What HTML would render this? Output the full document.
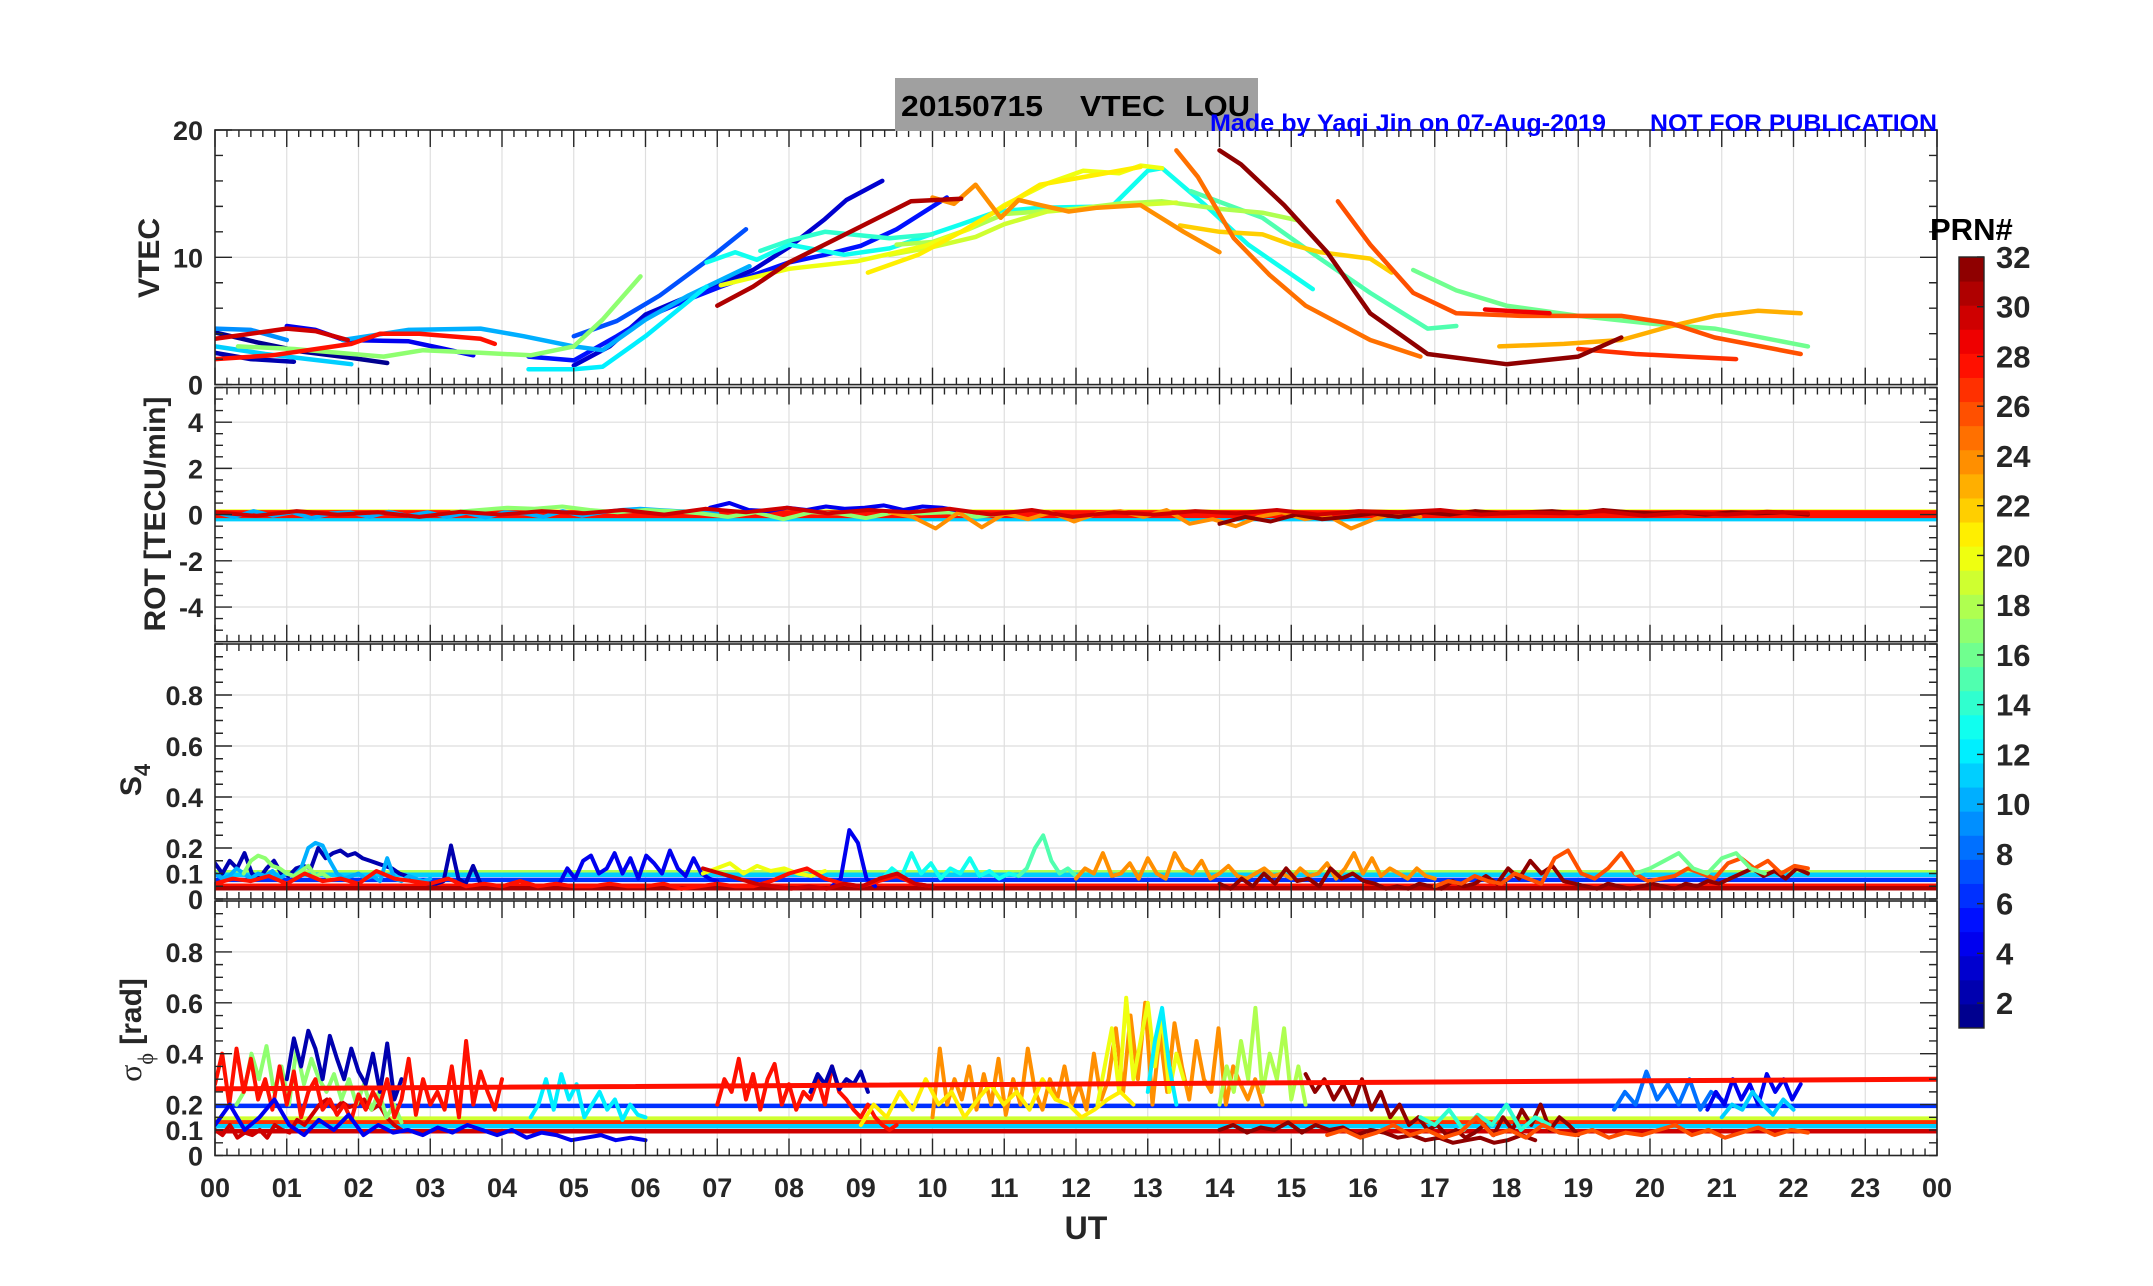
<!DOCTYPE html>
<html><head><meta charset="utf-8">
<style>
html,body{margin:0;padding:0;background:#fff;}
svg{display:block;font-family:"Liberation Sans",Arial,sans-serif;font-weight:bold;}
</style></head>
<body>
<svg id="fig" width="2153" height="1286" viewBox="0 0 2153 1286" xmlns="http://www.w3.org/2000/svg">
<rect x="0" y="0" width="2153" height="1286" fill="#fff"/>
<g id="grids"></g>
<g id="series"></g>
<g id="axes"></g>
<g id="labels"></g>
</svg>
<script>
// ---------------- DATA ----------------
const VTEC_PRN = [1,2,3,4,5,7,9,10,11,12,13,14,15,16,17,18,19,20,21,22,23,24,25,26,27,28,29,30,31,32];
const VTEC_T = [
 [0,0.6,1.2,1.9,2.4],
 [0,0.5,1.1],
 [5.0,5.5,6.0,6.5,7.0,7.5,8.0,8.5,8.8,9.3],
 [1.0,1.4,1.8,2.7,3.2,3.6],
 [4.37,5.0,5.6,6.1,6.6,7.05,8.0,8.5,9.0,9.5,10.2],
 [5.0,5.6,6.2,6.8,7.4],
 [0,0.5,1.0],
 [1.78,2.7,3.7,4.3,5.0,5.4,6.0,6.6,7.45],
 [0,0.7,1.3,1.9],
 [4.37,5.0,5.4,6.0,6.85],
 [6.85,7.25,7.55,8.0,8.77,9.4,10.4,10.9,11.5,12.5,13.0,13.2,13.8,14.4,15.3],
 [7.6,8.0,8.5,8.86,9.4,10.0],
 [13.6,14.6,15.4,16.1,16.9,17.3],
 [16.7,17.3,18.0,19.0,20.0,20.9,22.2],
 [0.32,1.1,2.35,2.9,3.7,4.4,5.0,5.4,5.93],
 [9.5,10.0,10.5,11.0,11.5,12.0,12.58,13.2,14.0,14.6,15.1],
 [9.4,10.0,10.6,11.0,11.6,12.2,12.8,13.4],
 [7.05,8.0,8.96,9.9,10.5,11.0,11.6,12.1,12.6,12.9,13.2],
 [9.1,9.8,10.4,11.0,11.5,12.0,12.3,12.9],
 [13.45,14.0,14.6,15.0,15.4,16.1,16.4],
 [17.9,18.8,19.6,20.3,20.9,21.5,22.1],
 [10.0,10.3,10.6,10.95,11.2,11.5,11.9,12.3,12.9,13.5,14.0],
 [13.4,13.7,14.2,14.7,15.2,16.1,16.8],
 [15.65,16.1,16.7,17.3,18.2,19.6,20.3,20.9,22.1],
 [19.0,19.8,20.5,21.2],
 [0,0.8,1.9,2.3,2.85,3.7,3.9],
 [17.7,18.6],
 [0,1.0,1.4,1.85],
 [7.0,7.5,8.0,8.96,9.7,10.4],
 [14.0,14.3,14.9,15.5,16.1,16.9,18.0,19.0,19.6]
];
const VTEC_V = [
 [4.1,3.3,2.6,2.1,1.7],
 [2.5,2.0,1.8],
 [1.5,3.0,5.5,6.7,7.8,9.0,10.8,13.0,14.5,16.0],
 [4.6,4.3,3.5,3.4,2.8,2.3],
 [2.2,1.9,3.8,5.5,6.7,7.7,9.6,10.2,10.9,12.2,14.7],
 [3.8,5.0,7.0,9.5,12.2],
 [4.4,4.3,3.5],
 [3.5,4.3,4.4,3.8,3.0,2.7,5.1,7.0,9.3],
 [3.0,2.4,2.0,1.6],
 [1.2,1.2,1.4,3.8,7.7],
 [9.6,10.4,9.8,11.0,10.2,10.7,12.6,13.6,13.9,14.0,16.8,17.0,14.1,11.0,7.5],
 [10.5,11.3,12.0,11.8,11.5,11.8],
 [15.2,13.1,9.9,7.2,4.4,4.6],
 [9.0,7.4,6.2,5.4,4.8,4.4,3.0],
 [3.0,2.8,2.2,2.7,2.5,2.3,3.0,5.1,8.5],
 [11.0,11.2,12.2,13.4,13.6,13.8,14.2,14.4,13.8,13.5,12.9],
 [10.2,10.8,11.6,12.6,13.6,13.9,14.1,14.3],
 [7.8,9.1,9.7,10.9,12.2,14.1,15.8,16.8,16.6,17.2,17.0],
 [8.8,10.2,12.0,14.0,15.7,16.2,16.5,17.1],
 [12.5,12.0,11.8,11.0,10.4,9.9,8.8],
 [3.0,3.2,3.5,4.6,5.4,5.8,5.6],
 [14.7,14.2,15.7,13.1,14.5,14.1,13.6,13.9,14.1,12.0,10.4],
 [18.4,16.3,11.5,8.6,6.2,3.5,2.2],
 [14.4,11.0,7.2,5.6,5.4,5.4,4.8,3.7,2.4],
 [2.8,2.4,2.2,2.0],
 [2.0,2.3,3.2,4.0,4.0,3.6,3.2],
 [5.9,5.6],
 [3.6,4.4,4.2,3.5],
 [6.2,7.7,9.6,12.3,14.4,14.6],
 [18.4,17.3,14.1,10.4,5.6,2.4,1.6,2.2,3.7]
];

const ROT_BASE_PRN = [11, 20, 28];
const ROT_BASE_V = [-0.12, 0.05, 0.02];
const ROT_PRN = [10, 17, 4, 24, 32, 30];
const ROT_SPAN = [[0,7.0],[3.3,11.0],[6.9,10.4],[9.4,16.8],[14.0,22.2],[0,22.2]];
const ROT_V = [
 [0.1,-0.1,0.15,-0.05,0.1,-0.15,0.05,0.1,-0.1,0.12,-0.05,0.1,-0.1,0.08,-0.12,0.1,0.05,-0.1,0.15,-0.05,0.1,0.2,0.25,0.2,0.15,0.1,0.05],
 [0.1,0.2,0.3,0.25,0.35,0.2,0.1,0.2,0.15,0.05,-0.1,0.1,-0.2,0.1,0.05,-0.15,0.1,0.05,0.1,-0.1,0.05],
 [0.3,0.5,0.2,0.15,0.3,0.2,0.35,0.25,0.3,0.4,0.2,0.35,0.3,0.15],
 [0.1,-0.1,-0.6,0.1,-0.55,0.05,-0.2,0.1,-0.3,0.05,0.15,-0.1,0.2,-0.4,-0.2,-0.5,-0.1,0.1,-0.2,-0.05,-0.6,-0.2,0.1,-0.1],
 [-0.4,-0.1,-0.3,0.0,-0.2,-0.1,0.05,-0.1,0.1,0.0,0.15,0.05,0.1,0.15,0.05,0.2,0.1,0.05,0.1,0.0,0.1,0.05,0.1,0.0],
 [0.1,-0.05,0.15,0.0,0.1,-0.1,0.12,0.0,0.15,0.05,0.2,0.0,0.25,0.1,0.3,0.05,0.2,0.1,0.25,0.0,0.2,-0.1,0.1,0.0,0.15,0.05,0.2,0.0,0.15,0.1,0.2,0.0,0.1,0.05,0.15,-0.05,0.1,0.0,0.12,0.05]
];

const S4_BASE_PRN = [18, 11, 6, 28, 31];
const S4_BASE_V = [0.105, 0.095, 0.075, 0.052, 0.042];
const S4_PRN = [2, 10, 17, 4, 4, 13, 15, 24, 32, 26, 20, 16, 28, 30];
const S4_SPAN = [[0,3.7],[0,3.0],[0.4,1.6],[4.8,7.0],[8.6,9.2],[9.3,11.2],[11.2,12.0],[12.0,17.0],[14.0,22.2],[17.0,22.2],[6.8,8.5],[19.8,21.6],[0,10.0],[6.8,10.0]];
const S4_V = [
 [0.14,0.1,0.15,0.12,0.18,0.1,0.08,0.12,0.15,0.1,0.09,0.12,0.13,0.12,0.2,0.16,0.18,0.19,0.17,0.18,0.16,0.15,0.14,0.13,0.12,0.1,0.09,0.08,0.07,0.06,0.06,0.07,0.21,0.08,0.06,0.13,0.06],
 [0.1,0.08,0.09,0.12,0.1,0.08,0.1,0.09,0.11,0.08,0.1,0.09,0.12,0.2,0.22,0.21,0.15,0.1,0.08,0.09,0.1,0.08,0.09,0.07,0.16,0.08,0.07,0.09,0.08,0.07,0.08],
 [0.1,0.15,0.17,0.16,0.13,0.12,0.1,0.09,0.11,0.13,0.09,0.1,0.08],
 [0.06,0.12,0.08,0.15,0.17,0.1,0.12,0.18,0.1,0.16,0.08,0.17,0.14,0.1,0.19,0.12,0.09,0.16,0.1,0.08,0.07],
 [0.05,0.08,0.27,0.22,0.08,0.05],
 [0.08,0.12,0.09,0.18,0.1,0.14,0.08,0.12,0.1,0.16,0.09,0.11,0.08,0.1,0.09],
 [0.09,0.12,0.2,0.25,0.15,0.1,0.12,0.09],
 [0.08,0.12,0.1,0.18,0.09,0.1,0.14,0.08,0.16,0.1,0.08,0.18,0.12,0.1,0.15,0.08,0.1,0.13,0.09,0.08,0.1,0.12,0.09,0.1,0.08,0.12,0.09,0.1,0.14,0.08,0.12,0.18,0.1,0.16,0.09,0.12,0.1,0.08,0.12,0.09,0.08],
 [0.06,0.04,0.08,0.05,0.1,0.06,0.12,0.07,0.08,0.05,0.12,0.08,0.1,0.07,0.06,0.04,0.05,0.04,0.06,0.05,0.04,0.07,0.05,0.06,0.09,0.06,0.12,0.08,0.15,0.1,0.13,0.07,0.06,0.05,0.04,0.06,0.05,0.04,0.05,0.06,0.05,0.04,0.06,0.05,0.07,0.06,0.08,0.1,0.12,0.09,0.11,0.08,0.12,0.1],
 [0.05,0.07,0.06,0.09,0.07,0.06,0.1,0.08,0.06,0.16,0.19,0.1,0.08,0.12,0.18,0.1,0.07,0.08,0.09,0.12,0.1,0.08,0.14,0.16,0.12,0.15,0.1,0.13,0.12],
 [0.1,0.12,0.14,0.1,0.13,0.11,0.12,0.1,0.09,0.11],
 [0.1,0.12,0.15,0.18,0.12,0.1,0.16,0.18,0.12,0.1],
 [0.06,0.08,0.07,0.09,0.06,0.1,0.07,0.08,0.06,0.11,0.08,0.07,0.06,0.08,0.05,0.06,0.05,0.07,0.05,0.06,0.05,0.05,0.06,0.05,0.05,0.06,0.04,0.05,0.06,0.05,0.05,0.07,0.1,0.12,0.08,0.06,0.05,0.07,0.09,0.06,0.05],
 [0.12,0.1,0.08,0.06,0.05,0.04,0.05,0.04,0.06,0.05,0.08,0.1,0.06,0.05]
];

const SP_LINE_PRN = [28];
const SP_LINE_V0 = [0.262];
const SP_LINE_V1 = [0.300];
const SP_BASE_PRN = [6, 19, 27, 11, 30];
const SP_BASE_V = [0.195, 0.145, 0.13, 0.115, 0.095];
const SP_PRN = [30, 17, 2, 28, 12, 4, 28, 2, 24, 20, 12, 18, 21, 32, 32, 14, 8, 4, 26, 11];
const SP_SPAN = [[0,2.6],[0.3,2.6],[1.0,2.6],[0,4.0],[4.4,6.0],[0,6.0],[7.0,9.5],[8.3,9.1],[10.0,14.6],[12.3,13.5],[13.0,13.4],[14.0,15.2],[9.0,12.8],[15.2,19.0],[14.0,18.4],[16.8,18.6],[19.5,21.0],[20.8,22.1],[15.5,22.2],[21.0,22.0]];
const SP_V = [
 [0.1,0.08,0.12,0.07,0.09,0.08,0.1,0.07,0.12,0.1,0.09,0.14,0.12,0.16,0.2,0.22,0.18,0.21,0.19,0.2,0.22,0.18,0.2,0.15,0.12,0.1],
 [0.2,0.25,0.4,0.3,0.43,0.25,0.35,0.2,0.42,0.28,0.38,0.3,0.25,0.32,0.22,0.3,0.2,0.28,0.18,0.25,0.15,0.2,0.13],
 [0.3,0.46,0.35,0.49,0.42,0.3,0.47,0.38,0.3,0.42,0.33,0.28,0.4,0.25,0.44,0.22,0.3],
 [0.28,0.4,0.2,0.42,0.25,0.38,0.22,0.3,0.18,0.35,0.2,0.33,0.15,0.25,0.3,0.18,0.22,0.16,0.2,0.14,0.24,0.18,0.25,0.2,0.3,0.15,0.22,0.38,0.16,0.3,0.2,0.25,0.18,0.35,0.15,0.45,0.2,0.33,0.25,0.18,0.3],
 [0.15,0.2,0.3,0.18,0.32,0.22,0.28,0.15,0.2,0.25,0.18,0.22,0.14,0.2,0.16,0.15],
 [0.12,0.2,0.1,0.15,0.22,0.12,0.08,0.14,0.1,0.16,0.08,0.12,0.09,0.1,0.08,0.11,0.09,0.12,0.1,0.08,0.1,0.07,0.09,0.08,0.06,0.07,0.08,0.06,0.07,0.06],
 [0.2,0.3,0.25,0.38,0.22,0.32,0.18,0.3,0.36,0.2,0.28,0.18,0.25,0.22,0.3,0.2,0.35,0.25,0.22,0.18,0.15,0.2,0.15,0.12,0.1,0.12],
 [0.25,0.32,0.28,0.35,0.26,0.3,0.28,0.33,0.25],
 [0.15,0.42,0.2,0.3,0.22,0.35,0.18,0.32,0.2,0.38,0.16,0.3,0.2,0.42,0.25,0.18,0.3,0.22,0.35,0.2,0.28,0.18,0.4,0.22,0.3,0.5,0.25,0.55,0.3,0.6,0.2,0.48,0.25,0.52,0.35,0.22,0.45,0.3,0.25,0.5,0.2,0.35,0.28,0.22,0.3,0.2],
 [0.2,0.35,0.5,0.25,0.62,0.3,0.45,0.6,0.35,0.55,0.25,0.4,0.3],
 [0.25,0.45,0.58,0.35,0.2],
 [0.2,0.35,0.25,0.45,0.3,0.58,0.25,0.4,0.3,0.5,0.22,0.35,0.2],
 [0.12,0.2,0.15,0.25,0.18,0.3,0.2,0.25,0.15,0.22,0.28,0.2,0.25,0.18,0.3,0.22,0.2,0.15,0.18,0.22,0.25,0.2],
 [0.32,0.25,0.3,0.22,0.28,0.2,0.3,0.18,0.25,0.15,0.2,0.12,0.15,0.1,0.12,0.08,0.1,0.07,0.09,0.12,0.08,0.15,0.1,0.18,0.12,0.2,0.1,0.15,0.12,0.08],
 [0.1,0.12,0.09,0.11,0.1,0.13,0.09,0.12,0.1,0.11,0.08,0.1,0.09,0.07,0.08,0.06,0.07,0.05,0.06,0.07,0.05,0.06,0.08,0.06],
 [0.15,0.12,0.18,0.1,0.16,0.12,0.2,0.1,0.15,0.12],
 [0.18,0.25,0.2,0.33,0.22,0.28,0.2,0.3,0.18,0.25,0.22],
 [0.18,0.25,0.2,0.3,0.22,0.28,0.2,0.32,0.25,0.3,0.22,0.28],
 [0.08,0.1,0.07,0.09,0.12,0.08,0.1,0.07,0.09,0.15,0.08,0.1,0.07,0.12,0.09,0.08,0.1,0.07,0.09,0.08,0.1,0.12,0.08,0.1,0.07,0.09,0.11,0.08,0.1,0.09],
 [0.15,0.2,0.18,0.25,0.2,0.16,0.22,0.18]
];

const X_TICKS = ["00","01","02","03","04","05","06","07","08","09","10","11","12","13","14","15","16","17","18","19","20","21","22","23","00"];
const VTEC_TICKS = [0,10,20];
const ROT_TICKS = [-4,-2,0,2,4];
const S4_TICKS = [0,0.1,0.2,0.4,0.6,0.8];
const SP_TICKS = [0,0.1,0.2,0.4,0.6,0.8];
const CB_TICKS = [2,4,6,8,10,12,14,16,18,20,22,24,26,28,30,32];

// ---------------- LAYOUT ----------------
const NS = "http://www.w3.org/2000/svg";
const X0 = 215, X1 = 1937;
const PANELS = [
 {name:"vtec", top:130, bot:384.6, min:0, max:20, minor:2, grid:[0,10,20]},
 {name:"rot", top:387.5, bot:641.7, min:-5.5, max:5.5, minor:0.5, grid:[-4,-2,0,2,4]},
 {name:"s4", top:644, bot:899, min:0, max:1, minor:0.05, grid:[0.2,0.4,0.6,0.8]},
 {name:"sigma", top:901, bot:1155.5, min:0, max:1, minor:0.05, grid:[0.2,0.4,0.6,0.8]}
];
function xs(h){ return X0 + (X1-X0)*h/24; }
function ys(p, v){ return p.bot - (p.bot-p.top)*(v-p.min)/(p.max-p.min); }
function jet(prn){
  const v = (prn-0.5)/32;
  const c = x => Math.round(255*Math.max(0,Math.min(1,x)));
  return `rgb(${c(1.5-Math.abs(4*v-3))},${c(1.5-Math.abs(4*v-2))},${c(1.5-Math.abs(4*v-1))})`;
}
function mk(tag, attrs, parent){
  const e = document.createElementNS(NS, tag);
  for (const k in attrs) e.setAttribute(k, attrs[k]);
  parent.appendChild(e); return e;
}
const gGrid = document.getElementById('grids');
const gSer = document.getElementById('series');
const gAx = document.getElementById('axes');
const gLab = document.getElementById('labels');

const defs = mk('defs', {}, document.getElementById('fig'));
PANELS.forEach(p=>{
  const cp = mk('clipPath', {id:'clip-'+p.name}, defs);
  mk('rect', {x:X0, y:p.top, width:X1-X0, height:p.bot-p.top}, cp);
});

PANELS.forEach(p=>{
  for (let h=1; h<24; h++){
    const l = mk('line', {x1:xs(h), x2:xs(h), y1:p.top, y2:p.bot, stroke:'#dedede', 'stroke-width':1.2}, gGrid);
    
    
  }
  p.grid.forEach(v=>{
    if (v===p.min || v===p.max) return;
    const l = mk('line', {x1:X0, x2:X1, y1:ys(p,v), y2:ys(p,v), stroke:'#dedede', 'stroke-width':1.2}, gGrid);
    
    
  });
});

function poly(p, pts, color, w, name){
  const d = pts.map((q,i)=>(i?'L':'M')+xs(q[0]).toFixed(1)+','+ys(p,q[1]).toFixed(1)).join('');
  const e = mk('path', {d:d, fill:'none', stroke:color, 'stroke-width':w, 'stroke-linejoin':'round', 'stroke-linecap':'round', 'clip-path':'url(#clip-'+p.name+')'}, gSer);
  
  
  return e;
}
function spanPts(span, vals){
  const n = vals.length;
  return vals.map((v,i)=>[span[0] + (span[1]-span[0])*i/(n-1), v]);
}

const P1 = PANELS[0], P2 = PANELS[1], P3 = PANELS[2], P4 = PANELS[3];
VTEC_PRN.forEach((prn,i)=>{
  poly(P1, VTEC_T[i].map((t,j)=>[t, VTEC_V[i][j]]), jet(prn), 4.5, 'vtec-line-prn'+prn);
});
ROT_BASE_PRN.forEach((prn,i)=>{ poly(P2, [[0,ROT_BASE_V[i]],[24,ROT_BASE_V[i]]], jet(prn), 8, 'rot-baseline-prn'+prn); });
ROT_PRN.forEach((prn,i)=>{ poly(P2, spanPts(ROT_SPAN[i], ROT_V[i]), jet(prn), 4, 'rot-trace-prn'+prn); });
S4_BASE_PRN.forEach((prn,i)=>{ poly(P3, [[0,S4_BASE_V[i]],[24,S4_BASE_V[i]]], jet(prn), 4.5, 's4-baseline-prn'+prn); });
S4_PRN.forEach((prn,i)=>{ poly(P3, spanPts(S4_SPAN[i], S4_V[i]), jet(prn), 4, 's4-trace-prn'+prn); });
SP_BASE_PRN.forEach((prn,i)=>{ poly(P4, [[0,SP_BASE_V[i]],[24,SP_BASE_V[i]]], jet(prn), 4.5, 'sigma-baseline-prn'+prn); });
SP_PRN.forEach((prn,i)=>{ poly(P4, spanPts(SP_SPAN[i], SP_V[i]), jet(prn), 4, 'sigma-trace-prn'+prn); });
SP_LINE_PRN.forEach((prn,i)=>{ poly(P4, [[0,SP_LINE_V0[i]],[24,SP_LINE_V1[i]]], jet(prn), 5, 'sigma-trend-prn'+prn); });

PANELS.forEach(p=>{
  const r = mk('rect', {x:X0, y:p.top, width:X1-X0, height:p.bot-p.top, fill:'none', stroke:'#262626', 'stroke-width':1.6}, gAx);
  
  
  let d = '';
  for (let k=0; k<=144; k++){
    const x = xs(k/6), len = (k%6===0)?17:7;
    d += `M${x},${p.top}v${len}M${x},${p.bot}v${-len}`;
  }
  const nMin = Math.round((p.max-p.min)/p.minor);
  for (let k=0; k<=nMin; k++){
    const v = p.min + k*p.minor;
    const major = p.grid.some(g=>Math.abs(g-v)<1e-6);
    const len = major?17:8;
    const y = ys(p,v);
    d += `M${X0},${y}h${len}M${X1},${y}h${-len}`;
  }
  const t = mk('path', {d:d, stroke:'#262626', 'stroke-width':1.4, fill:'none'}, gAx);
  
  
});

function txt(x, y, s, size, anchor, name, extra){
  const e = mk('text', Object.assign({x:x, y:y, 'font-size':size, 'text-anchor':anchor, fill:'#262626'}, extra||{}), gLab);
  e.textContent = s;
  
  
  return e;
}
VTEC_TICKS.forEach(v=>txt(203, ys(P1,v)+10, String(v), 27, 'end', 'vtec-tick-label'));
ROT_TICKS.forEach(v=>txt(203, ys(P2,v)+10, String(v), 27, 'end', 'rot-tick-label'));
S4_TICKS.forEach(v=>txt(203, ys(P3,v)+10, String(v), 27, 'end', 's4-tick-label'));
SP_TICKS.forEach(v=>txt(203, ys(P4,v)+10, String(v), 27, 'end', 'sigma-tick-label'));
X_TICKS.forEach((s,i)=>txt(xs(i), 1197, s, 27, 'middle', 'x-tick-label'));
txt(1086, 1239, 'UT', 32, 'middle', 'x-axis-title');

txt(0, 0, 'VTEC', 30, 'middle', 'vtec-axis-title', {transform:'translate(159,258) rotate(-90)'});
txt(0, 0, 'ROT [TECU/min]', 30, 'middle', 'rot-axis-title', {transform:'translate(165,514) rotate(-90)'});
const s4t = txt(0, 0, 'S', 30, 'middle', 's4-axis-title', {transform:'translate(141,780) rotate(-90)'});
const s4sub = document.createElementNS(NS,'tspan'); s4sub.setAttribute('font-size','22'); s4sub.setAttribute('dy','9'); s4sub.textContent='4'; s4t.appendChild(s4sub);
const spt = txt(0, 0, 'σ', 32, 'middle', 'sigma-axis-title', {transform:'translate(141,1030) rotate(-90)', 'font-weight':'normal', 'font-family':'"Liberation Serif",serif'});
const sps = document.createElementNS(NS,'tspan'); sps.setAttribute('font-size','22'); sps.setAttribute('dy','12'); sps.textContent='ϕ'; spt.appendChild(sps);
const spr = document.createElementNS(NS,'tspan'); spr.setAttribute('font-family','"Liberation Sans",sans-serif'); spr.setAttribute('font-weight','bold'); spr.setAttribute('font-size','30'); spr.setAttribute('dy','-12'); spr.textContent=' [rad]'; spt.appendChild(spr);

const tb = mk('rect', {x:895, y:78, width:363, height:53, fill:'#a0a0a0'}, gLab);


txt(901, 116, '20150715', 29, 'start', 'chart-title-date', {fill:'#000', textLength:142, lengthAdjust:'spacingAndGlyphs'});
txt(1080, 116, 'VTEC', 29, 'start', 'chart-title-quantity', {fill:'#000', textLength:85, lengthAdjust:'spacingAndGlyphs'});
txt(1185, 116, 'LOU', 29, 'start', 'chart-title-station', {fill:'#000', textLength:65, lengthAdjust:'spacingAndGlyphs'});
txt(1210, 131, 'Made by Yaqi Jin on 07-Aug-2019', 24, 'start', 'author-note', {fill:'#0000ff', textLength:396, lengthAdjust:'spacingAndGlyphs'});
txt(1650, 131, 'NOT FOR PUBLICATION', 24, 'start', 'publication-note', {fill:'#0000ff', textLength:287, lengthAdjust:'spacingAndGlyphs'});

const CB_X = 1959, CB_W = 25, CB_TOP = 257, CB_BOT = 1028;
const cbh = (CB_BOT-CB_TOP)/32;
for (let k=1; k<=32; k++){
  const r = mk('rect', {x:CB_X, y:CB_BOT - k*cbh, width:CB_W, height:cbh+0.5, fill:jet(k)}, gLab);
  
  
}
const cbf = mk('rect', {x:CB_X, y:CB_TOP, width:CB_W, height:CB_BOT-CB_TOP, fill:'none', stroke:'#262626', 'stroke-width':1.4}, gLab);


CB_TICKS.forEach(v=>{
  const y = CB_BOT - (CB_BOT-CB_TOP)*(v-1)/31;
  const tk = mk('line', {x1:CB_X+CB_W-7, x2:CB_X+CB_W, y1:y, y2:y, stroke:'#262626', 'stroke-width':1.4}, gLab);
  
  
  txt(1996, y+11, String(v), 31, 'start', 'colorbar-tick-label');
});
txt(1930, 240, 'PRN#', 31, 'start', 'colorbar-title', {fill:'#000'});
</script>
</body></html>
